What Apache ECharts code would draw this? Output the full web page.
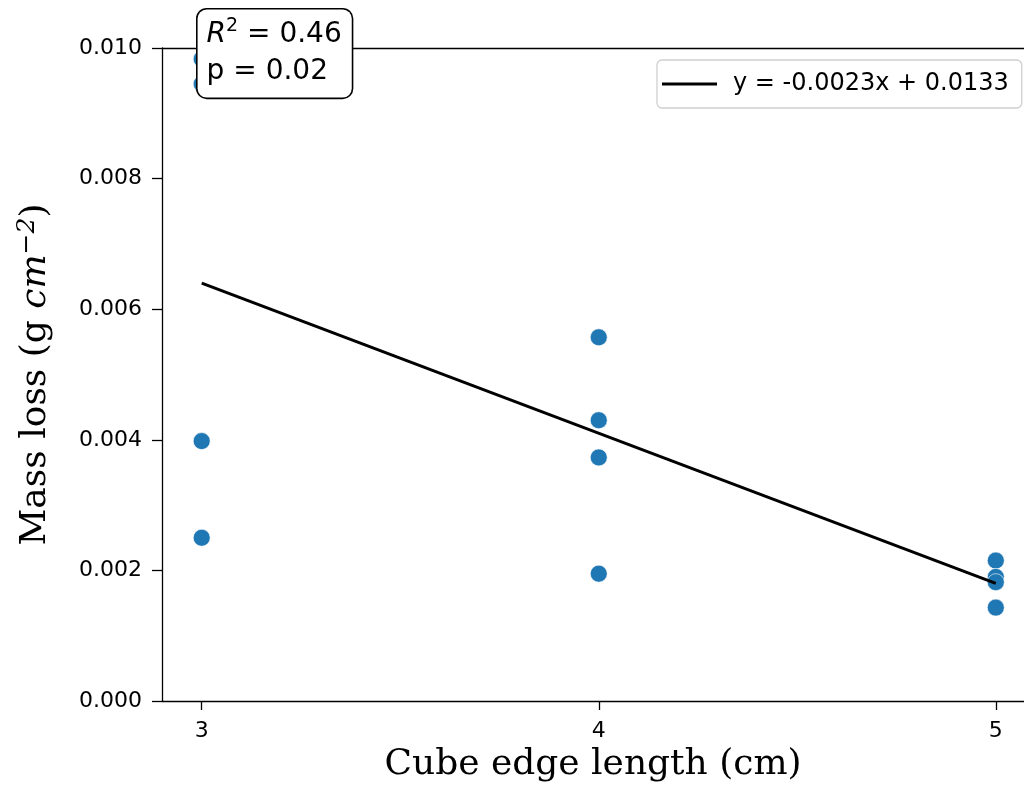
<!DOCTYPE html>
<html>
<head>
<meta charset="utf-8">
<script src="https://cdn.jsdelivr.net/npm/echarts@6/dist/echarts.min.js"></script>
<style>
html,body{margin:0;padding:0;background:#fff;}
#chart{width:1024px;height:790px;}
</style>
</head>
<body>
<div id="chart"></div>
<script>
// Data
const edgeLength = [3, 3, 3, 3, 4, 4, 4, 4, 5, 5, 5, 5];
const massLoss = [0.00983, 0.00945, 0.00398, 0.00250, 0.00557, 0.00430, 0.00373, 0.00195, 0.00215, 0.00190, 0.00182, 0.00143];
const fitX = [3, 5];
const fitY = [0.0064, 0.0018];
const fitLabel = 'y = -0.0023x + 0.0133';
const xTicks = [3, 4, 5];
const yTicks = [0.000, 0.002, 0.004, 0.006, 0.008, 0.010];
const statR2 = '0.46';
const statP = '0.02';

const chart = echarts.init(document.getElementById('chart'));
const sans = 'DejaVu Sans';
const serif = 'DejaVu Serif';

chart.setOption({
  animation: false,
  backgroundColor: '#fff',
  grid: { left: 162, top: 48, right: 0, height: 653, show: false },
  xAxis: {
    type: 'value', min: 2.9, max: 5.071,
    axisLine: { show: true, onZero: false, lineStyle: { color: '#000', width: 1.3 } },
    axisTick: { show: true, length: 9, lineStyle: { color: '#000', width: 1.3 },
      customValues: xTicks },
    axisLabel: { fontFamily: sans, fontSize: 22, color: '#000', margin: 19,
      customValues: xTicks, formatter: v => String(v) },
    splitLine: { show: false },
    name: 'Cube edge length (cm)', nameLocation: 'middle', nameGap: 46,
    nameTextStyle: { fontFamily: serif, fontSize: 36, color: '#000' }
  },
  yAxis: {
    type: 'value', min: 0, max: 0.010, interval: 0.002,
    axisLine: { show: true, onZero: false, lineStyle: { color: '#000', width: 1.3 } },
    axisTick: { show: true, length: 10, lineStyle: { color: '#000', width: 1.3 } },
    axisLabel: { fontFamily: sans, fontSize: 22, color: '#000', margin: 20,
      formatter: v => v.toFixed(3) },
    splitLine: { show: false },
    name: '{n|Mass loss (g }{i|cm}{s|−2}{n|)}', nameLocation: 'middle', nameGap: 106,
    nameRotate: 90,
    nameTextStyle: { rich: {
      n: { fontFamily: serif, fontSize: 36, color: '#000' },
      i: { fontFamily: serif, fontStyle: 'italic', fontSize: 36, color: '#000' },
      s: { fontFamily: serif, fontStyle: 'italic', fontSize: 25, color: '#000', verticalAlign: 'top', padding: [0, 0, 16, 0] }
    } }
  },
  legend: {
    data: [{ name: fitLabel, icon: 'rect' }],
    left: 657, top: 60,
    itemWidth: 55, itemHeight: 3, itemGap: 10,
    padding: [12, 13, 12, 5],
    borderColor: '#d0d0d0', borderWidth: 1.3, borderRadius: 5,
    backgroundColor: '#fff',
    textStyle: { fontFamily: sans, fontSize: 24, color: '#000', padding: [0, 0, 0, 11] }
  },
  graphic: [{
    type: 'line', z: 50,
    shape: { x1: 162, y1: 48.5, x2: 1024, y2: 48.5 },
    style: { stroke: '#000', lineWidth: 1.3 }
  }, {
    type: 'text', left: 196, top: 8, z: 100,
    style: {
      text: '{i|R}{s|2}{n| = ' + statR2 + '}\n{n|p = ' + statP + '}',
      backgroundColor: '#fff', borderColor: '#000', borderWidth: 1.6, borderRadius: 9,
      padding: [7, 10, 7, 9],
      rich: {
        n: { fontFamily: sans, fontSize: 28, color: '#000', lineHeight: 37 },
        i: { fontFamily: sans, fontStyle: 'italic', fontSize: 28, color: '#000', lineHeight: 37 },
        s: { fontFamily: sans, fontSize: 19, color: '#000', verticalAlign: 'top', lineHeight: 37, padding: [0, 0, 12, 0] }
      }
    }
  }],
  series: [{
    type: 'scatter',
    data: edgeLength.map((x, i) => [x, massLoss[i]]),
    symbolSize: 17,
    itemStyle: { color: '#1f77b4', opacity: 1, borderColor: '#fff', borderWidth: 0.6 },
    z: 3
  }, {
    type: 'line', name: fitLabel,
    data: fitX.map((x, i) => [x, fitY[i]]),
    symbol: 'none',
    lineStyle: { color: '#000', width: 3 },
    itemStyle: { color: '#000' },
    z: 4
  }]
});
</script>
</body>
</html>
